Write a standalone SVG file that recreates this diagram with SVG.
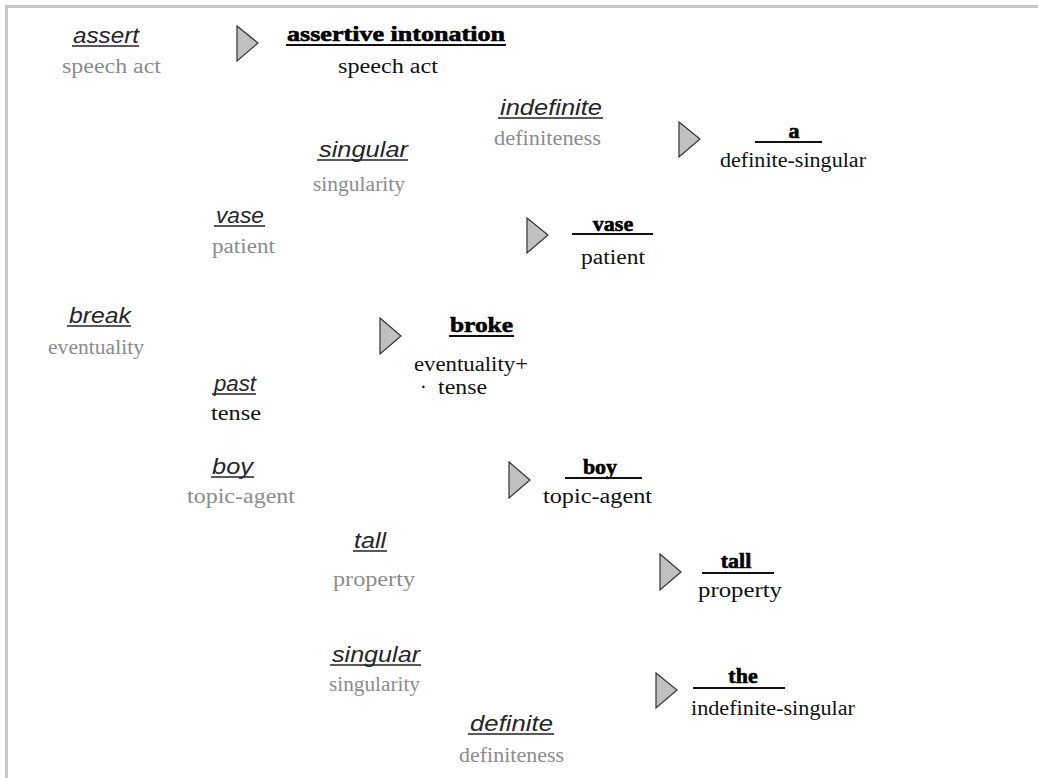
<svg xmlns="http://www.w3.org/2000/svg" width="1038" height="778" viewBox="0 0 1038 778">
  <style>
    .word { font-family: "Liberation Sans", Arial, sans-serif; font-style: italic; font-size: 22px; fill: #262626; }
    .cat { font-family: "Liberation Serif", "Times New Roman", serif; font-size: 20px; fill: #8c8c8c; }
    .catb { font-family: "Liberation Serif", "Times New Roman", serif; font-size: 20px; fill: #111; }
    .form { font-family: "Liberation Serif", "Times New Roman", serif; font-weight: bold; font-size: 22px; fill: #000; stroke: #000; stroke-width: 0.6; }
    .ul { stroke: #222; stroke-width: 1.5; }
    .bar { stroke: #111; stroke-width: 2; }
    .tri { fill: #c0c0c0; stroke: #333; stroke-width: 1.2; stroke-linejoin: miter; }
  </style>
  <rect width="1038" height="778" fill="#fff"/>
  <!-- frame -->
  <rect x="5" y="5" width="1033" height="3" fill="#c8c8c8"/>
  <rect x="5" y="5" width="3" height="773" fill="#c8c8c8"/>

  <!-- arrow glyphs between inputs and outputs -->
  <g id="connectors">
    <path class="tri" d="M237,26 L258,43 L237,61 Z"/>
    <path class="tri" d="M679,122 L700,139 L679,157 Z"/>
    <path class="tri" d="M527,218 L548,235 L527,253 Z"/>
    <path class="tri" d="M380,318 L401,336 L380,354 Z"/>
    <path class="tri" d="M509,462 L530,480 L509,498 Z"/>
    <path class="tri" d="M660,554 L681,572 L660,590 Z"/>
    <path class="tri" d="M656,673 L677,690 L656,708 Z"/>
  </g>

  <!-- input features -->
  <g id="assert">
    <text class="word" x="73" y="43" textLength="66" lengthAdjust="spacingAndGlyphs">assert</text>
    <line class="ul" x1="72" y1="46" x2="139" y2="46"/>
    <text class="cat" x="62" y="73" textLength="99" lengthAdjust="spacingAndGlyphs">speech act</text>
  </g>
  <g id="indefinite">
    <text class="word" x="500" y="115" textLength="102" lengthAdjust="spacingAndGlyphs">indefinite</text>
    <line class="ul" x1="498" y1="118" x2="603" y2="118"/>
    <text class="cat" x="494" y="145" textLength="107" lengthAdjust="spacingAndGlyphs">definiteness</text>
  </g>
  <g id="singular1">
    <text class="word" x="319" y="157" textLength="89" lengthAdjust="spacingAndGlyphs">singular</text>
    <line class="ul" x1="317" y1="160" x2="408" y2="160"/>
    <text class="cat" x="313" y="191" textLength="92" lengthAdjust="spacingAndGlyphs">singularity</text>
  </g>
  <g id="vase-in">
    <text class="word" x="216" y="223" textLength="48" lengthAdjust="spacingAndGlyphs">vase</text>
    <line class="ul" x1="214" y1="226" x2="265" y2="226"/>
    <text class="cat" x="212" y="253" textLength="63" lengthAdjust="spacingAndGlyphs">patient</text>
  </g>
  <g id="break">
    <text class="word" x="69" y="323" textLength="62" lengthAdjust="spacingAndGlyphs">break</text>
    <line class="ul" x1="67" y1="326" x2="131" y2="326"/>
    <text class="cat" x="48" y="354" textLength="96" lengthAdjust="spacingAndGlyphs">eventuality</text>
  </g>
  <g id="past">
    <text class="word" x="214" y="391" textLength="42" lengthAdjust="spacingAndGlyphs">past</text>
    <line class="ul" x1="212" y1="394" x2="256" y2="394"/>
    <text class="catb" x="211" y="420" textLength="50" lengthAdjust="spacingAndGlyphs">tense</text>
  </g>
  <g id="boy-in">
    <text class="word" x="212" y="474" textLength="41" lengthAdjust="spacingAndGlyphs">boy</text>
    <line class="ul" x1="211" y1="477" x2="254" y2="477"/>
    <text class="cat" x="187" y="503" textLength="108" lengthAdjust="spacingAndGlyphs">topic-agent</text>
  </g>
  <g id="tall-in">
    <text class="word" x="354" y="548" textLength="32" lengthAdjust="spacingAndGlyphs">tall</text>
    <line class="ul" x1="353" y1="551" x2="387" y2="551"/>
    <text class="cat" x="333" y="586" textLength="82" lengthAdjust="spacingAndGlyphs">property</text>
  </g>
  <g id="singular2">
    <text class="word" x="332" y="662" textLength="88" lengthAdjust="spacingAndGlyphs">singular</text>
    <line class="ul" x1="330" y1="665" x2="421" y2="665"/>
    <text class="cat" x="329" y="691" textLength="91" lengthAdjust="spacingAndGlyphs">singularity</text>
  </g>
  <g id="definite">
    <text class="word" x="470" y="731" textLength="83" lengthAdjust="spacingAndGlyphs">definite</text>
    <line class="ul" x1="468" y1="734" x2="554" y2="734"/>
    <text class="cat" x="459" y="762" textLength="105" lengthAdjust="spacingAndGlyphs">definiteness</text>
  </g>

  <!-- output forms -->
  <g id="assertive-intonation">
    <text class="form" x="287" y="41" textLength="218" lengthAdjust="spacingAndGlyphs">assertive intonation</text>
    <line class="bar" x1="286" y1="45" x2="506" y2="45"/>
    <text class="catb" x="338" y="73" textLength="100" lengthAdjust="spacingAndGlyphs">speech act</text>
  </g>
  <g id="a">
    <text class="form" x="794" y="138" text-anchor="middle">a</text>
    <line class="bar" x1="755" y1="142" x2="822" y2="142"/>
    <text class="catb" x="720" y="167" textLength="146" lengthAdjust="spacingAndGlyphs">definite-singular</text>
  </g>
  <g id="vase-out">
    <text class="form" x="613" y="231" text-anchor="middle">vase</text>
    <line class="bar" x1="572" y1="234" x2="653" y2="234"/>
    <text class="catb" x="581" y="264" textLength="64" lengthAdjust="spacingAndGlyphs">patient</text>
  </g>
  <g id="broke">
    <text class="form" x="450" y="332" textLength="63" lengthAdjust="spacingAndGlyphs">broke</text>
    <line class="bar" x1="449" y1="336" x2="514" y2="336"/>
    <text class="catb" x="414" y="371" textLength="114" lengthAdjust="spacingAndGlyphs">eventuality+</text>
    <text class="catb" x="420" y="394">·</text>
    <text class="catb" x="438" y="394" textLength="49" lengthAdjust="spacingAndGlyphs">tense</text>
  </g>
  <g id="boy-out">
    <text class="form" x="600" y="474" text-anchor="middle">boy</text>
    <line class="bar" x1="565" y1="478" x2="642" y2="478"/>
    <text class="catb" x="543" y="503" textLength="109" lengthAdjust="spacingAndGlyphs">topic-agent</text>
  </g>
  <g id="tall-out">
    <text class="form" x="736" y="568" text-anchor="middle">tall</text>
    <line class="bar" x1="702" y1="573" x2="774" y2="573"/>
    <text class="catb" x="698" y="597" textLength="84" lengthAdjust="spacingAndGlyphs">property</text>
  </g>
  <g id="the">
    <text class="form" x="743" y="683" text-anchor="middle">the</text>
    <line class="bar" x1="693" y1="688" x2="785" y2="688"/>
    <text class="catb" x="691" y="715" textLength="164" lengthAdjust="spacingAndGlyphs">indefinite-singular</text>
  </g>
</svg>
